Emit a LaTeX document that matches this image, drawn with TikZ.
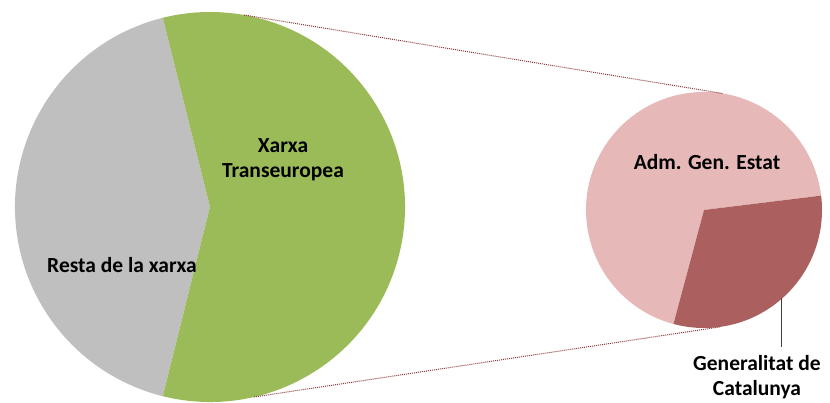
\documentclass[tikz,border=0pt]{standalone}
\usepackage{fontspec}
\setmainfont{Carlito}
\usepackage{tikz}
\usetikzlibrary{positioning, calc}

\definecolor{restagray}{HTML}{BFBFBF}
\definecolor{tengreen}{HTML}{9BBB59}
\definecolor{agepink}{HTML}{E6B9B8}
\definecolor{gencatred}{HTML}{AC5F5F}
\definecolor{linkred}{HTML}{8C3A3A}
\definecolor{leadgray}{HTML}{404040}

\begin{document}
\begin{tikzpicture}[x=1pt, y=1pt,
    pielabel/.style={font=\fontsize{21.5}{25}\selectfont\bfseries, align=center, text=black},
    connector/.style={draw=linkred, line width=1pt, densely dotted},
    leader/.style={draw=leadgray, line width=0.8pt}]
    \useasboundingbox (0,0) rectangle (830,403);
    \coordinate (big) at (210,196);
    \coordinate (small) at (704,193);
    % big pie
    \fill[restagray] (big) -- ++(104:195) arc[start angle=104, end angle=256, radius=195] -- cycle;
    \fill[tengreen] (big) -- ++(256:195) arc[start angle=256, end angle=464, radius=195] -- cycle;
    % small pie
    \fill[agepink] (small) -- ++(7:118) arc[start angle=7, end angle=255, radius=118] -- cycle;
    \fill[gencatred] (small) -- ++(-105:118) arc[start angle=-105, end angle=7, radius=118] -- cycle;
    % connectors between the pies
    \coordinate (bigtop) at ($(big)+(80:195)$);
    \coordinate (bigbot) at ($(big)+(-77:195)$);
    \coordinate (smalltop) at ($(small)+(81:118)$);
    \coordinate (smallbot) at ($(small)+(-82:118)$);
    \draw[connector] (bigtop) -- (smalltop);
    \draw[connector] (bigbot) -- (smallbot);
    % labels
    \node[pielabel] (xarxa) at (283,243) {Xarxa\\Transeuropea};
    \node[pielabel] (resta) at (122,138) {Resta de la xarxa};
    \node[pielabel] (age) at (707,241) {Adm. Gen. Estat};
    \node[pielabel] (gencat) at (757,26) {Generalitat de\\Catalunya};
    \coordinate (gencatpt) at (781,105);
    \coordinate (gencatlead) at (781,56);
    \draw[leader] (gencatpt) -- (gencatlead);
\end{tikzpicture}
\end{document}
